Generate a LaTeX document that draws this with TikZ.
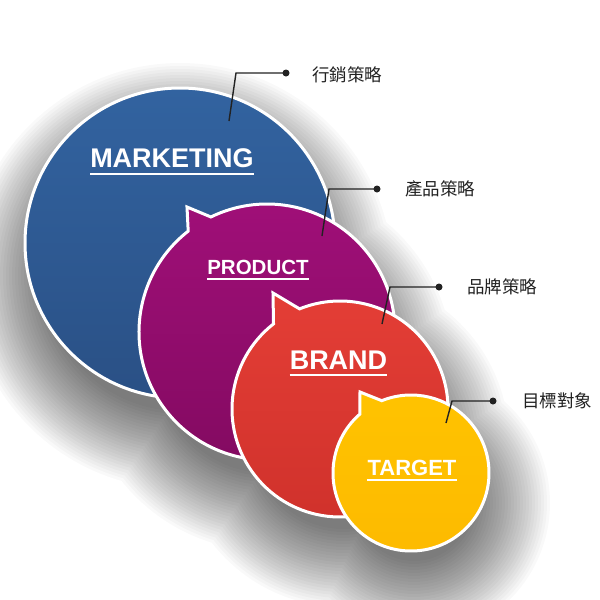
\documentclass[tikz,border=0pt]{standalone}
\usepackage{fontspec}
\setmainfont{Liberation Sans}
\newfontfamily\cjkfont{Noto Sans CJK TC}
\definecolor{blueL}{HTML}{3263A0}
\definecolor{blueD}{HTML}{2A5085}
\definecolor{purL}{HTML}{A10F79}
\definecolor{purD}{HTML}{820A60}
\definecolor{redL}{HTML}{E43E36}
\definecolor{redD}{HTML}{CF312B}
\definecolor{yelL}{HTML}{FFC300}
\definecolor{yelD}{HTML}{FDBA00}
\definecolor{ink}{HTML}{222222}
\begin{document}
\begin{tikzpicture}[x=1pt,y=-1pt,
  bubble/.style={draw=white, line width=3pt, shading angle=45},
  lbl/.style={text=white, inner sep=0pt, anchor=base},
  uline/.style={draw=white, line width=2.2pt},
  lead/.style={draw=ink, line width=1.4pt},
  dotc/.style={circle, fill=ink, inner sep=0pt, minimum size=7pt},
  cjk/.style={font=\cjkfont\fontsize{17.5}{17.5}\selectfont, text=ink, anchor=west, inner sep=0pt}]
\useasboundingbox (0,0) rectangle (600,600);
\fill[white] (0,0) rectangle (600,600);
% shadow: union of offset circles, soft rings
\foreach \k in {0,...,26} {
  \pgfmathsetmacro{\d}{-20+3*\k}
  \fill[black, opacity=0.025]
    (180,276) circle[radius={(155+\d)*1pt}]
    (267,365) circle[radius={(128+\d)*1pt}]
    (343,441) circle[radius={(108+\d)*1pt}]
    (414,503) circle[radius={(78+\d)*1pt}];
}
% circle 1
\path[bubble, top color=blueL, bottom color=blueD] (180,243) circle[radius=155pt];
% circle 2
\path[bubble, top color=purL, bottom color=purD] (267,332) ++(128:128pt)
  arc[start angle=128, end angle=476, radius=128pt] -- (187,207) -- cycle;
% circle 3
\path[bubble, top color=redL, bottom color=redD] (340,409) ++(128:108pt)
  arc[start angle=128, end angle=472, radius=108pt] -- (273,293) -- cycle;
% circle 4
\path[bubble, top color=yelL, bottom color=yelD] (411,473) ++(131:78pt)
  arc[start angle=131, end angle=472, radius=78pt] -- (360,392) -- cycle;
% labels
\node[lbl, font=\bfseries\fontsize{27}{27}\selectfont] (mk) at (172,167) {MARKETING};
\draw[uline] ([yshift=-7pt]mk.base west) -- ([yshift=-7pt]mk.base east);
\node[lbl, font=\bfseries\fontsize{20.5}{20.5}\selectfont] (pr) at (258,274) {PRODUCT};
\draw[uline] ([yshift=-5pt]pr.base west) -- ([yshift=-5pt]pr.base east);
\node[lbl, font=\bfseries\fontsize{27}{27}\selectfont] (br) at (338.5,369) {BRAND};
\draw[uline] ([yshift=-6pt]br.base west) -- ([yshift=-6pt]br.base east);
\node[lbl, font=\bfseries\fontsize{22}{22}\selectfont] (tg) at (412,475) {TARGET};
\draw[uline] ([yshift=-5pt]tg.base west) -- ([yshift=-5pt]tg.base east);
% leaders
\coordinate (a1) at (229,121); \coordinate (b1) at (236,73);
\node[dotc] (d1) at (286,73) {};
\node[cjk] (t1) at (312,75) {行銷策略};
\draw[lead] (a1) -- (b1) -- (d1.center);
\coordinate (a2) at (322,236); \coordinate (b2) at (329,189);
\node[dotc] (d2) at (377,189) {};
\node[cjk] (t2) at (405,189) {產品策略};
\draw[lead] (a2) -- (b2) -- (d2.center);
\coordinate (a3) at (382,324); \coordinate (b3) at (390,287);
\node[dotc] (d3) at (439,287) {};
\node[cjk] (t3) at (467,287) {品牌策略};
\draw[lead] (a3) -- (b3) -- (d3.center);
\coordinate (a4) at (446,423); \coordinate (b4) at (452,401);
\node[dotc] (d4) at (493,401) {};
\node[cjk] (t4) at (522,401) {目標對象};
\draw[lead] (a4) -- (b4) -- (d4.center);
\end{tikzpicture}
\end{document}
